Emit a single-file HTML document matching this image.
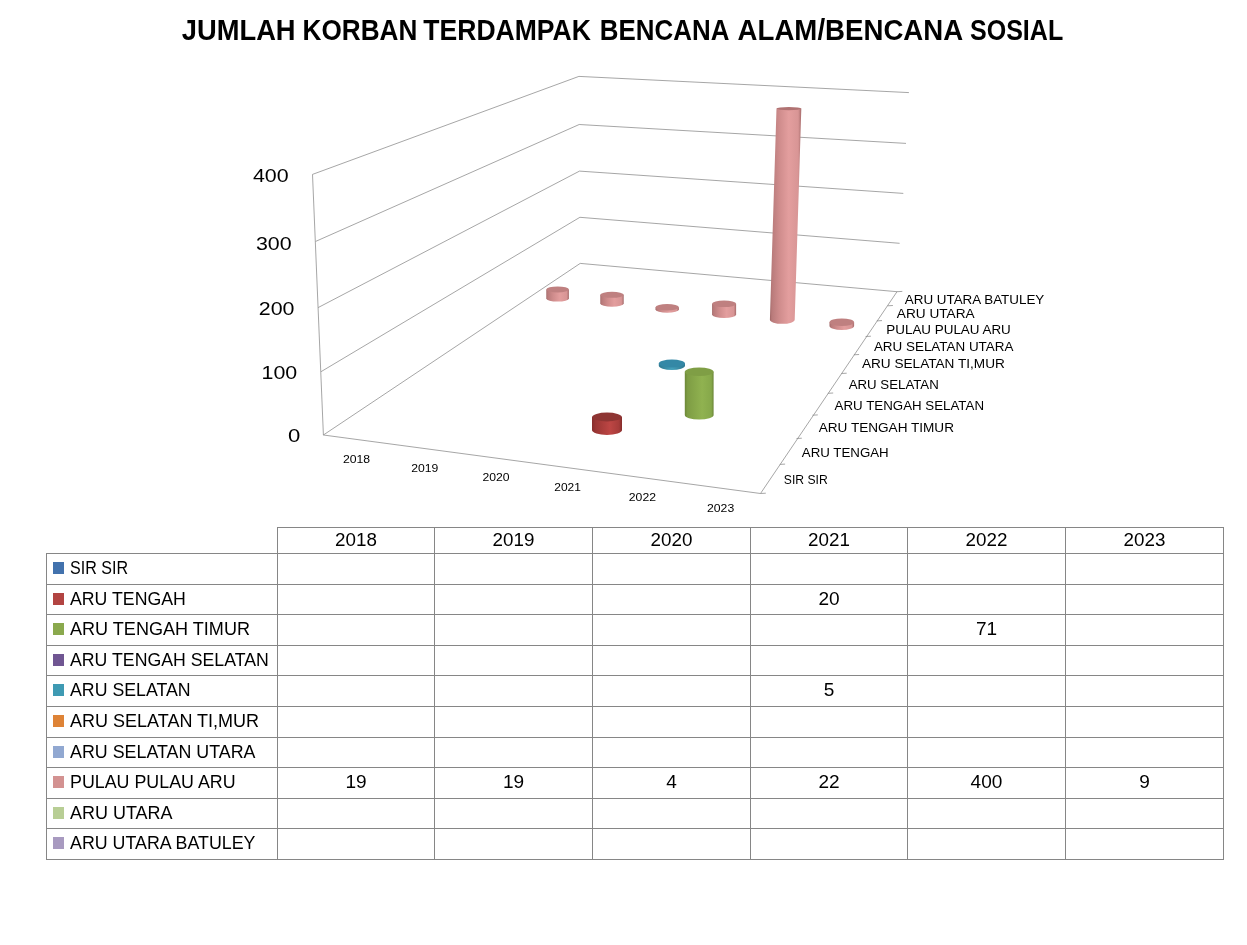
<!DOCTYPE html>
<html lang="id">
<head>
<meta charset="utf-8">
<title>Jumlah Korban Terdampak Bencana Alam/Bencana Sosial</title>
<style>
html,body{margin:0;padding:0;background:#fff;}
body{width:1247px;height:945px;overflow:hidden;}
svg{display:block;}
text{white-space:pre;}
</style>
</head>
<body>
<svg width="1247" height="945" viewBox="0 0 1247 945" font-family="'Liberation Sans', sans-serif" role="img" aria-label="Jumlah korban terdampak bencana alam/bencana sosial 2018-2023">
<defs><linearGradient id="gp" x1="0" y1="0" x2="1" y2="0"><stop offset="0" stop-color="#9e6464"/><stop offset="0.06" stop-color="#b87a7a"/><stop offset="0.3" stop-color="#cf8c8c"/><stop offset="0.6" stop-color="#e39e9e"/><stop offset="0.9" stop-color="#d89595"/><stop offset="0.97" stop-color="#b87a7a"/><stop offset="1" stop-color="#9a6060"/></linearGradient><linearGradient id="gr" x1="0" y1="0" x2="1" y2="0"><stop offset="0" stop-color="#862d2c"/><stop offset="0.12" stop-color="#9a3634"/><stop offset="0.6" stop-color="#bd4644"/><stop offset="0.9" stop-color="#a63c3a"/><stop offset="1" stop-color="#842b2a"/></linearGradient><linearGradient id="gg" x1="0" y1="0" x2="1" y2="0"><stop offset="0" stop-color="#6c8738"/><stop offset="0.1" stop-color="#7e9d44"/><stop offset="0.6" stop-color="#90b250"/><stop offset="0.92" stop-color="#86a84a"/><stop offset="1" stop-color="#6a8436"/></linearGradient><linearGradient id="gb" x1="0" y1="0" x2="1" y2="0"><stop offset="0" stop-color="#2f7890"/><stop offset="0.5" stop-color="#44a0ba"/><stop offset="1" stop-color="#2f7890"/></linearGradient></defs>
<rect width="1247" height="945" fill="#fff"/>
<g id="title">
<text x="181.8" y="39.8" font-size="29" font-weight="700" text-anchor="start" fill="#000" textLength="113.8" lengthAdjust="spacingAndGlyphs">JUMLAH</text>
<text x="302.6" y="39.8" font-size="29" font-weight="700" text-anchor="start" fill="#000" textLength="114.7" lengthAdjust="spacingAndGlyphs">KORBAN</text>
<text x="423.3" y="39.8" font-size="29" font-weight="700" text-anchor="start" fill="#000" textLength="167.6" lengthAdjust="spacingAndGlyphs">TERDAMPAK</text>
<text x="599.8" y="39.8" font-size="29" font-weight="700" text-anchor="start" fill="#000" textLength="129.6" lengthAdjust="spacingAndGlyphs">BENCANA</text>
<text x="737.6" y="39.8" font-size="29" font-weight="700" text-anchor="start" fill="#000" textLength="225.6" lengthAdjust="spacingAndGlyphs">ALAM/BENCANA</text>
<text x="970.0" y="39.8" font-size="29" font-weight="700" text-anchor="start" fill="#000" textLength="93.2" lengthAdjust="spacingAndGlyphs">SOSIAL</text>
</g>
<g id="plot" fill="none">
<polyline points="312.5,174.4 578.9,76.4 908.9,92.6" stroke="#888888" stroke-width="0.75"/>
<polyline points="315.7,241.4 579.2,124.5 906.0,143.4" stroke="#888888" stroke-width="0.75"/>
<polyline points="318.1,307.6 579.5,171.1 903.3,193.4" stroke="#888888" stroke-width="0.75"/>
<polyline points="321.0,371.7 579.9,217.3 899.6,243.3" stroke="#888888" stroke-width="0.75"/>
<polyline points="323.4,435.0 580.2,263.4 897.0,291.7" stroke="#888888" stroke-width="0.75"/>
<line x1="312.5" y1="174.4" x2="323.4" y2="435.0" stroke="#888888" stroke-width="0.75"/>
<line x1="323.4" y1="435.0" x2="760.5" y2="493.5" stroke="#888888" stroke-width="0.75"/>
<line x1="760.5" y1="493.5" x2="897.0" y2="291.7" stroke="#888888" stroke-width="0.75"/>
<line x1="760.5" y1="493.5" x2="765.8" y2="493.2" stroke="#888888" stroke-width="0.75"/>
<line x1="779.8" y1="464.4" x2="785.1" y2="464.1" stroke="#888888" stroke-width="0.75"/>
<line x1="796.5" y1="438.5" x2="801.8" y2="438.2" stroke="#888888" stroke-width="0.75"/>
<line x1="812.5" y1="415.2" x2="817.8" y2="414.9" stroke="#888888" stroke-width="0.75"/>
<line x1="827.9" y1="393.3" x2="833.2" y2="393.0" stroke="#888888" stroke-width="0.75"/>
<line x1="841.4" y1="373.5" x2="846.7" y2="373.2" stroke="#888888" stroke-width="0.75"/>
<line x1="853.8" y1="354.8" x2="859.1" y2="354.5" stroke="#888888" stroke-width="0.75"/>
<line x1="865.6" y1="336.5" x2="870.9" y2="336.2" stroke="#888888" stroke-width="0.75"/>
<line x1="876.7" y1="320.9" x2="882.0" y2="320.6" stroke="#888888" stroke-width="0.75"/>
<line x1="887.6" y1="305.8" x2="892.9" y2="305.5" stroke="#888888" stroke-width="0.75"/>
<line x1="897.0" y1="291.7" x2="902.3" y2="291.4" stroke="#888888" stroke-width="0.75"/>
</g>
<g id="bars">
<g>
<path d="M546.3,289.4 L546.3,298.4 A11.3,3.2 0 0 0 568.9,298.4 L568.9,289.4 Z" fill="url(#gp)"/>
<ellipse cx="557.6" cy="289.4" rx="11.3" ry="3.0" fill="#bf8080"/>
</g>
<g>
<path d="M600.3,294.8 L600.3,303.6 A11.7,3.2 0 0 0 623.7,303.6 L623.7,294.8 Z" fill="url(#gp)"/>
<ellipse cx="612.0" cy="294.8" rx="11.7" ry="3.0" fill="#bf8080"/>
</g>
<g>
<path d="M655.5,307.2 L655.5,309.4 A11.7,3.4 0 0 0 678.9,309.4 L678.9,307.2 Z" fill="url(#gp)"/>
<ellipse cx="667.2" cy="307.2" rx="11.7" ry="3.2" fill="#bf8080"/>
</g>
<g>
<path d="M712.1,303.8 L712.1,314.4 A12.0,3.6 0 0 0 736.1,314.4 L736.1,303.8 Z" fill="url(#gp)"/>
<ellipse cx="724.1" cy="303.8" rx="12.0" ry="3.3" fill="#bf8080"/>
</g>
<g>
<path d="M776.5,108.6 L769.9,319.8 A12.4,4.0 0 0 0 794.7,319.8 L801.3,108.6 Z" fill="url(#gp)"/>
<ellipse cx="788.9" cy="108.6" rx="12.4" ry="1.6" fill="#b07272"/>
</g>
<g>
<path d="M829.5,322.3 L829.5,325.9 A12.3,4.0 0 0 0 854.1,325.9 L854.1,322.3 Z" fill="url(#gp)"/>
<ellipse cx="841.8" cy="322.3" rx="12.3" ry="3.8" fill="#bf8080"/>
</g>
<g>
<path d="M658.8,363.5 L658.8,365.8 A13.1,4.2 0 0 0 685.0,365.8 L685.0,363.5 Z" fill="url(#gb)"/>
<ellipse cx="671.9" cy="363.5" rx="13.1" ry="4.0" fill="#3488a6"/>
</g>
<g>
<path d="M684.8,371.7 L684.8,415.0 A14.4,4.6 0 0 0 713.6,415.0 L713.6,371.7 Z" fill="url(#gg)"/>
<ellipse cx="699.2" cy="371.7" rx="14.4" ry="4.3" fill="#7f9e45"/>
</g>
<g>
<path d="M592.0,417.0 L592.0,430.1 A14.9,4.8 0 0 0 622.0,430.1 L622.0,417.0 Z" fill="url(#gr)"/>
<ellipse cx="607.0" cy="417.0" rx="14.9" ry="4.4" fill="#8e3533"/>
</g>
</g>
<g id="yaxis">
<text x="252.9" y="182.4" font-size="19" font-weight="400" text-anchor="start" fill="#000" textLength="35.7" lengthAdjust="spacingAndGlyphs">400</text>
<text x="255.9" y="249.5" font-size="19" font-weight="400" text-anchor="start" fill="#000" textLength="35.7" lengthAdjust="spacingAndGlyphs">300</text>
<text x="258.8" y="315.2" font-size="19" font-weight="400" text-anchor="start" fill="#000" textLength="35.7" lengthAdjust="spacingAndGlyphs">200</text>
<text x="261.5" y="379.2" font-size="19" font-weight="400" text-anchor="start" fill="#000" textLength="35.7" lengthAdjust="spacingAndGlyphs">100</text>
<text x="288.0" y="441.8" font-size="19" font-weight="400" text-anchor="start" fill="#000" textLength="12.3" lengthAdjust="spacingAndGlyphs">0</text>
</g>
<g id="xaxis">
<text x="342.9" y="462.9" font-size="11.3" font-weight="400" text-anchor="start" fill="#000" textLength="27.2" lengthAdjust="spacingAndGlyphs">2018</text>
<text x="411.2" y="472.2" font-size="11.3" font-weight="400" text-anchor="start" fill="#000" textLength="27.1" lengthAdjust="spacingAndGlyphs">2019</text>
<text x="482.4" y="481.4" font-size="11.3" font-weight="400" text-anchor="start" fill="#000" textLength="27.1" lengthAdjust="spacingAndGlyphs">2020</text>
<text x="554.3" y="491.3" font-size="11.3" font-weight="400" text-anchor="start" fill="#000" textLength="26.6" lengthAdjust="spacingAndGlyphs">2021</text>
<text x="628.8" y="501.3" font-size="11.3" font-weight="400" text-anchor="start" fill="#000" textLength="27.2" lengthAdjust="spacingAndGlyphs">2022</text>
<text x="707.0" y="511.6" font-size="11.3" font-weight="400" text-anchor="start" fill="#000" textLength="27.2" lengthAdjust="spacingAndGlyphs">2023</text>
</g>
<g id="zaxis">
<text x="904.8" y="303.8" font-size="13" font-weight="400" text-anchor="start" fill="#000" textLength="139.5" lengthAdjust="spacingAndGlyphs">ARU UTARA BATULEY</text>
<text x="896.8" y="317.9" font-size="13" font-weight="400" text-anchor="start" fill="#000" textLength="77.8" lengthAdjust="spacingAndGlyphs">ARU UTARA</text>
<text x="886.3" y="333.8" font-size="13" font-weight="400" text-anchor="start" fill="#000" textLength="124.5" lengthAdjust="spacingAndGlyphs">PULAU PULAU ARU</text>
<text x="873.9" y="350.6" font-size="13" font-weight="400" text-anchor="start" fill="#000" textLength="139.5" lengthAdjust="spacingAndGlyphs">ARU SELATAN UTARA</text>
<text x="861.9" y="368.2" font-size="13" font-weight="400" text-anchor="start" fill="#000" textLength="143.0" lengthAdjust="spacingAndGlyphs">ARU SELATAN TI,MUR</text>
<text x="848.7" y="388.5" font-size="13" font-weight="400" text-anchor="start" fill="#000" textLength="90.1" lengthAdjust="spacingAndGlyphs">ARU SELATAN</text>
<text x="834.6" y="409.8" font-size="13" font-weight="400" text-anchor="start" fill="#000" textLength="149.4" lengthAdjust="spacingAndGlyphs">ARU TENGAH SELATAN</text>
<text x="818.7" y="431.7" font-size="13" font-weight="400" text-anchor="start" fill="#000" textLength="135.3" lengthAdjust="spacingAndGlyphs">ARU TENGAH TIMUR</text>
<text x="801.8" y="456.7" font-size="13" font-weight="400" text-anchor="start" fill="#000" textLength="86.9" lengthAdjust="spacingAndGlyphs">ARU TENGAH</text>
<text x="783.8" y="483.7" font-size="13" font-weight="400" text-anchor="start" fill="#000" textLength="43.9" lengthAdjust="spacingAndGlyphs">SIR SIR</text>
</g>
<g id="table">
<line x1="277.5" y1="527.5" x2="1223.5" y2="527.5" stroke="#868686" stroke-width="1" stroke-linecap="square"/>
<line x1="46.5" y1="553.5" x2="1223.5" y2="553.5" stroke="#868686" stroke-width="1" stroke-linecap="square"/>
<line x1="46.5" y1="584.5" x2="1223.5" y2="584.5" stroke="#868686" stroke-width="1" stroke-linecap="square"/>
<line x1="46.5" y1="614.5" x2="1223.5" y2="614.5" stroke="#868686" stroke-width="1" stroke-linecap="square"/>
<line x1="46.5" y1="645.5" x2="1223.5" y2="645.5" stroke="#868686" stroke-width="1" stroke-linecap="square"/>
<line x1="46.5" y1="675.5" x2="1223.5" y2="675.5" stroke="#868686" stroke-width="1" stroke-linecap="square"/>
<line x1="46.5" y1="706.5" x2="1223.5" y2="706.5" stroke="#868686" stroke-width="1" stroke-linecap="square"/>
<line x1="46.5" y1="737.5" x2="1223.5" y2="737.5" stroke="#868686" stroke-width="1" stroke-linecap="square"/>
<line x1="46.5" y1="767.5" x2="1223.5" y2="767.5" stroke="#868686" stroke-width="1" stroke-linecap="square"/>
<line x1="46.5" y1="798.5" x2="1223.5" y2="798.5" stroke="#868686" stroke-width="1" stroke-linecap="square"/>
<line x1="46.5" y1="828.5" x2="1223.5" y2="828.5" stroke="#868686" stroke-width="1" stroke-linecap="square"/>
<line x1="46.5" y1="859.5" x2="1223.5" y2="859.5" stroke="#868686" stroke-width="1" stroke-linecap="square"/>
<line x1="46.5" y1="553.5" x2="46.5" y2="859.5" stroke="#868686" stroke-width="1" stroke-linecap="square"/>
<line x1="277.5" y1="527.5" x2="277.5" y2="859.5" stroke="#868686" stroke-width="1" stroke-linecap="square"/>
<line x1="434.5" y1="527.5" x2="434.5" y2="859.5" stroke="#868686" stroke-width="1" stroke-linecap="square"/>
<line x1="592.5" y1="527.5" x2="592.5" y2="859.5" stroke="#868686" stroke-width="1" stroke-linecap="square"/>
<line x1="750.5" y1="527.5" x2="750.5" y2="859.5" stroke="#868686" stroke-width="1" stroke-linecap="square"/>
<line x1="907.5" y1="527.5" x2="907.5" y2="859.5" stroke="#868686" stroke-width="1" stroke-linecap="square"/>
<line x1="1065.5" y1="527.5" x2="1065.5" y2="859.5" stroke="#868686" stroke-width="1" stroke-linecap="square"/>
<line x1="1223.5" y1="527.5" x2="1223.5" y2="859.5" stroke="#868686" stroke-width="1" stroke-linecap="square"/>
<text x="335.1" y="546.3" font-size="17.6" font-weight="400" text-anchor="start" fill="#000" textLength="41.8" lengthAdjust="spacingAndGlyphs">2018</text>
<text x="492.6" y="546.3" font-size="17.6" font-weight="400" text-anchor="start" fill="#000" textLength="41.8" lengthAdjust="spacingAndGlyphs">2019</text>
<text x="650.6" y="546.3" font-size="17.6" font-weight="400" text-anchor="start" fill="#000" textLength="41.8" lengthAdjust="spacingAndGlyphs">2020</text>
<text x="808.1" y="546.3" font-size="17.6" font-weight="400" text-anchor="start" fill="#000" textLength="41.8" lengthAdjust="spacingAndGlyphs">2021</text>
<text x="965.6" y="546.3" font-size="17.6" font-weight="400" text-anchor="start" fill="#000" textLength="41.8" lengthAdjust="spacingAndGlyphs">2022</text>
<text x="1123.6" y="546.3" font-size="17.6" font-weight="400" text-anchor="start" fill="#000" textLength="41.8" lengthAdjust="spacingAndGlyphs">2023</text>
<rect x="53" y="562.0" width="11" height="12" fill="#4272ad"/>
<text x="70.0" y="574.0" font-size="17.6" font-weight="400" text-anchor="start" fill="#000" textLength="58.0" lengthAdjust="spacingAndGlyphs">SIR SIR</text>
<rect x="53" y="593.0" width="11" height="12" fill="#b24442"/>
<text x="70.0" y="605.0" font-size="17.6" font-weight="400" text-anchor="start" fill="#000" textLength="115.8" lengthAdjust="spacingAndGlyphs">ARU TENGAH</text>
<text x="818.4" y="605.0" font-size="17.6" font-weight="400" text-anchor="start" fill="#000" textLength="21.2" lengthAdjust="spacingAndGlyphs">20</text>
<rect x="53" y="623.0" width="11" height="12" fill="#8aa94d"/>
<text x="70.0" y="635.0" font-size="17.6" font-weight="400" text-anchor="start" fill="#000" textLength="180.0" lengthAdjust="spacingAndGlyphs">ARU TENGAH TIMUR</text>
<text x="975.9" y="635.0" font-size="17.6" font-weight="400" text-anchor="start" fill="#000" textLength="21.2" lengthAdjust="spacingAndGlyphs">71</text>
<rect x="53" y="654.0" width="11" height="12" fill="#705692"/>
<text x="70.0" y="666.0" font-size="17.6" font-weight="400" text-anchor="start" fill="#000" textLength="198.8" lengthAdjust="spacingAndGlyphs">ARU TENGAH SELATAN</text>
<rect x="53" y="684.0" width="11" height="12" fill="#3e9ab3"/>
<text x="70.0" y="696.0" font-size="17.6" font-weight="400" text-anchor="start" fill="#000" textLength="120.6" lengthAdjust="spacingAndGlyphs">ARU SELATAN</text>
<text x="823.7" y="696.0" font-size="17.6" font-weight="400" text-anchor="start" fill="#000" textLength="10.6" lengthAdjust="spacingAndGlyphs">5</text>
<rect x="53" y="715.0" width="11" height="12" fill="#de8336"/>
<text x="70.0" y="727.0" font-size="17.6" font-weight="400" text-anchor="start" fill="#000" textLength="189.1" lengthAdjust="spacingAndGlyphs">ARU SELATAN TI,MUR</text>
<rect x="53" y="746.0" width="11" height="12" fill="#91a8d1"/>
<text x="70.0" y="758.0" font-size="17.6" font-weight="400" text-anchor="start" fill="#000" textLength="185.5" lengthAdjust="spacingAndGlyphs">ARU SELATAN UTARA</text>
<rect x="53" y="776.0" width="11" height="12" fill="#d39291"/>
<text x="70.0" y="788.0" font-size="17.6" font-weight="400" text-anchor="start" fill="#000" textLength="165.6" lengthAdjust="spacingAndGlyphs">PULAU PULAU ARU</text>
<text x="345.4" y="788.0" font-size="17.6" font-weight="400" text-anchor="start" fill="#000" textLength="21.2" lengthAdjust="spacingAndGlyphs">19</text>
<text x="502.9" y="788.0" font-size="17.6" font-weight="400" text-anchor="start" fill="#000" textLength="21.2" lengthAdjust="spacingAndGlyphs">19</text>
<text x="666.2" y="788.0" font-size="17.6" font-weight="400" text-anchor="start" fill="#000" textLength="10.6" lengthAdjust="spacingAndGlyphs">4</text>
<text x="818.4" y="788.0" font-size="17.6" font-weight="400" text-anchor="start" fill="#000" textLength="21.2" lengthAdjust="spacingAndGlyphs">22</text>
<text x="970.6" y="788.0" font-size="17.6" font-weight="400" text-anchor="start" fill="#000" textLength="31.8" lengthAdjust="spacingAndGlyphs">400</text>
<text x="1139.2" y="788.0" font-size="17.6" font-weight="400" text-anchor="start" fill="#000" textLength="10.6" lengthAdjust="spacingAndGlyphs">9</text>
<rect x="53" y="807.0" width="11" height="12" fill="#b8ce95"/>
<text x="70.0" y="819.0" font-size="17.6" font-weight="400" text-anchor="start" fill="#000" textLength="102.5" lengthAdjust="spacingAndGlyphs">ARU UTARA</text>
<rect x="53" y="837.0" width="11" height="12" fill="#a89ac0"/>
<text x="70.0" y="849.0" font-size="17.6" font-weight="400" text-anchor="start" fill="#000" textLength="185.5" lengthAdjust="spacingAndGlyphs">ARU UTARA BATULEY</text>
</g>
</svg>
</body>
</html>
